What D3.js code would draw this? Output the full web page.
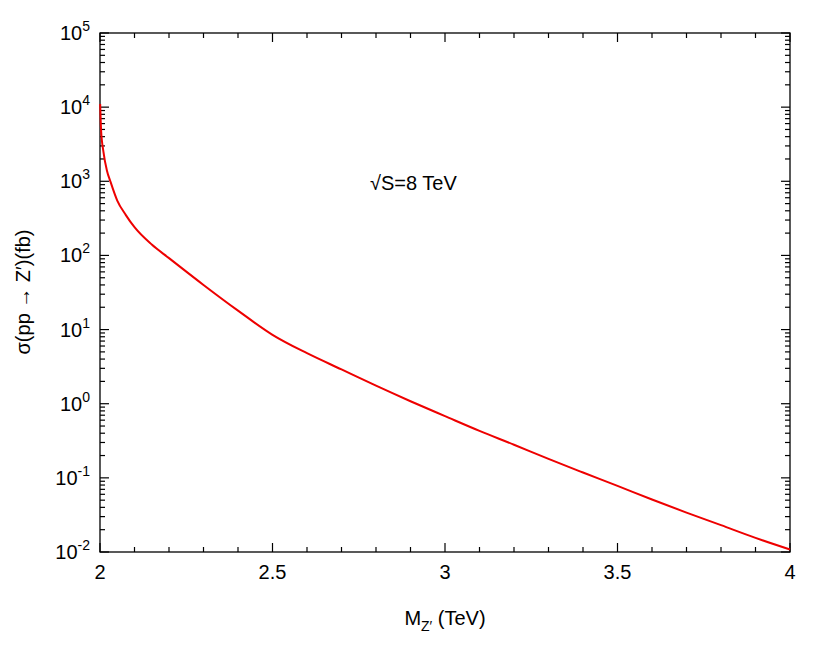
<!DOCTYPE html><html><head><meta charset="utf-8"><script src="https://cdn.jsdelivr.net/npm/d3@7"></script>
<style>body{margin:0;background:#fff}text{font-family:"Liberation Sans",Arial,sans-serif}</style></head><body><svg id="c" width="830" height="664"></svg>
<script>
const massTeV=[2.0005,2.003,2.01,2.02,2.03,2.05,2.075,2.1,2.15,2.2,2.3,2.4,2.5,2.6,2.7,2.8,2.9,3.0,3.1,3.2,3.3,3.4,3.5,3.6,3.7,3.8,3.9,4.0];
const sigmaFb=[11000,5000,2500,1400,1000,550,350,240,140,92,40,18,8.5,4.8,2.9,1.75,1.08,0.68,0.43,0.28,0.18,0.118,0.078,0.051,0.034,0.023,0.0155,0.0108];
const xTicks=[2,2.5,3,3.5,4];
const yExps=[-2,-1,0,1,2,3,4,5];
const svg=d3.select("#c");
const L=100,R=790,T=33,B=552;
const x=d3.scaleLinear().domain([2,4]).range([L,R]);
const y=d3.scaleLog().domain([1e-2,1e5]).range([B,T]);
const g=svg.append("g").attr("stroke","#000").attr("stroke-width",1.2);
for(let i=0;i<=20;i++){const v=2+i*0.1,px=x(v),maj=i%5==0,l=maj?9:5;
 g.append("line").attr("x1",px).attr("x2",px).attr("y1",B).attr("y2",B-l);
 g.append("line").attr("x1",px).attr("x2",px).attr("y1",T).attr("y2",T+l);}
yExps.forEach(e=>{const py=y(Math.pow(10,e));
 g.append("line").attr("x1",L).attr("x2",L+9).attr("y1",py).attr("y2",py);
 g.append("line").attr("x1",R).attr("x2",R-9).attr("y1",py).attr("y2",py);
 if(e<5)for(let k=2;k<10;k++){const pm=y(k*Math.pow(10,e));
  g.append("line").attr("x1",L).attr("x2",L+5).attr("y1",pm).attr("y2",pm);
  g.append("line").attr("x1",R).attr("x2",R-5).attr("y1",pm).attr("y2",pm);}
});
svg.append("rect").attr("x",L).attr("y",T).attr("width",R-L).attr("height",B-T).attr("fill","none").attr("stroke","#000").attr("stroke-width",1.3);
svg.selectAll(".xt").data(xTicks).enter().append("text").attr("x",d=>x(d)).attr("y",B+27).attr("text-anchor","middle").attr("font-size",20).text(d=>d);
yExps.forEach(e=>{const t=svg.append("text").attr("x",L-10).attr("y",y(Math.pow(10,e))+7).attr("text-anchor","end").attr("font-size",20);
 t.append("tspan").text("10");t.append("tspan").attr("dy",-9).attr("font-size",14).text(e);});
svg.append("path").datum(massTeV.map((m,i)=>[m,sigmaFb[i]])).attr("fill","none").attr("stroke","#e00").attr("stroke-width",2)
 .attr("d",d3.line().x(d=>x(d[0])).y(d=>y(d[1])).curve(d3.curveMonotoneX));
svg.append("text").attr("x",370).attr("y",190).attr("font-size",20).text("√S=8 TeV");
const xl=svg.append("text").attr("x",445).attr("y",625).attr("text-anchor","middle").attr("font-size",20);
xl.append("tspan").text("M");xl.append("tspan").attr("dy",6).attr("font-size",14).text("Z′");xl.append("tspan").attr("dy",-6).text(" (TeV)");
svg.append("text").attr("transform","translate(30,292) rotate(-90)").attr("text-anchor","middle").attr("font-size",20).text("σ(pp → Z′)(fb)");
</script></body></html>
